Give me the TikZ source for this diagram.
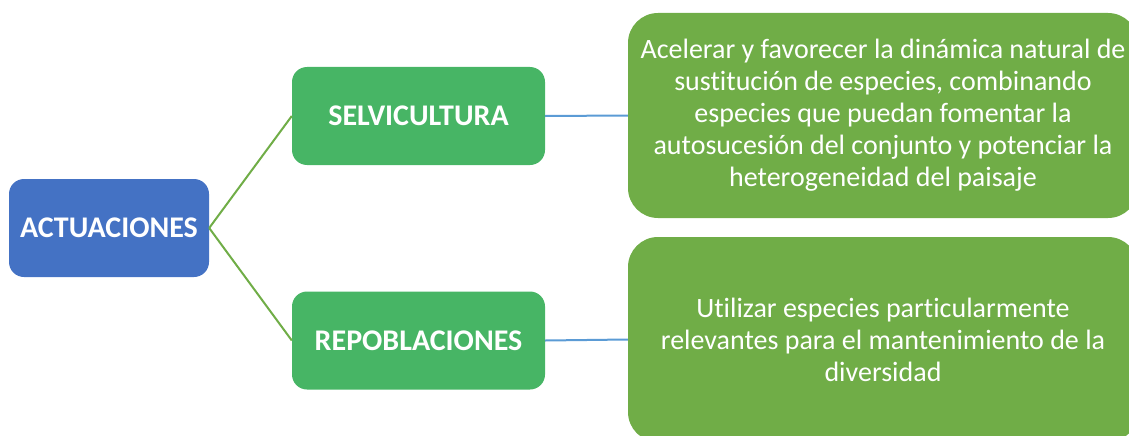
\documentclass[tikz,border=0pt]{standalone}
\usepackage{fontspec}
\setmainfont{Carlito}[Ligatures=NoCommon]
\usepackage{tikz}
\usetikzlibrary{arrows,shapes}

\begin{document}
\begin{tikzpicture}[x=1pt,y=-1pt]
		
		\definecolor{bluebox}{RGB}{68,114,196}
		\definecolor{greenbox}{RGB}{71,181,101}
		\definecolor{olivebox}{RGB}{112,173,71}
		\definecolor{blueline}{RGB}{91,155,213}
		
		\useasboundingbox (0,0) rectangle (1129,436);
		
		\tikzstyle{edge} = [draw,-,line width=2pt]
		
		\tikzset{block/.style = {shape=rectangle,rounded corners=15pt,text=white,font=\bfseries\fontsize{30}{36}\selectfont,minimum height=98pt}}
		\node[block,fill=bluebox,minimum width=200pt] (act) at (109,228) {ACTUACIONES};
		\node[block,fill=greenbox,minimum width=253pt] (selv) at (418.5,116) {SELVICULTURA};
		\node[block,fill=greenbox,minimum width=253pt] (repo) at (418.5,340.5) {REPOBLACIONES};
		
		\tikzset{block/.style = {shape=rectangle,rounded corners=30pt,fill=olivebox,text=white,align=center,font=\fontsize{28}{32}\selectfont,minimum width=510pt}}
		\node[block,minimum height=205pt] (selvtxt) at (883,115.5) {Acelerar y favorecer la dinámica natural de\\sustitución de especies, combinando\\especies que puedan fomentar la\\autosucesión del conjunto y potenciar la\\heterogeneidad del paisaje};
		\node[block,minimum height=205pt] (repotxt) at (883,339.5) {Utilizar especies particularmente\\relevantes para el mantenimiento de la\\diversidad};
		
		\draw[edge,olivebox] (act.east) to (selv.west);
		\draw[edge,olivebox] (act.east) to (repo.west);
		\draw[edge,blueline] (selv.east) to (selvtxt.west);
		\draw[edge,blueline] (repo.east) to (repotxt.west);
		\end{tikzpicture}
\end{document}
